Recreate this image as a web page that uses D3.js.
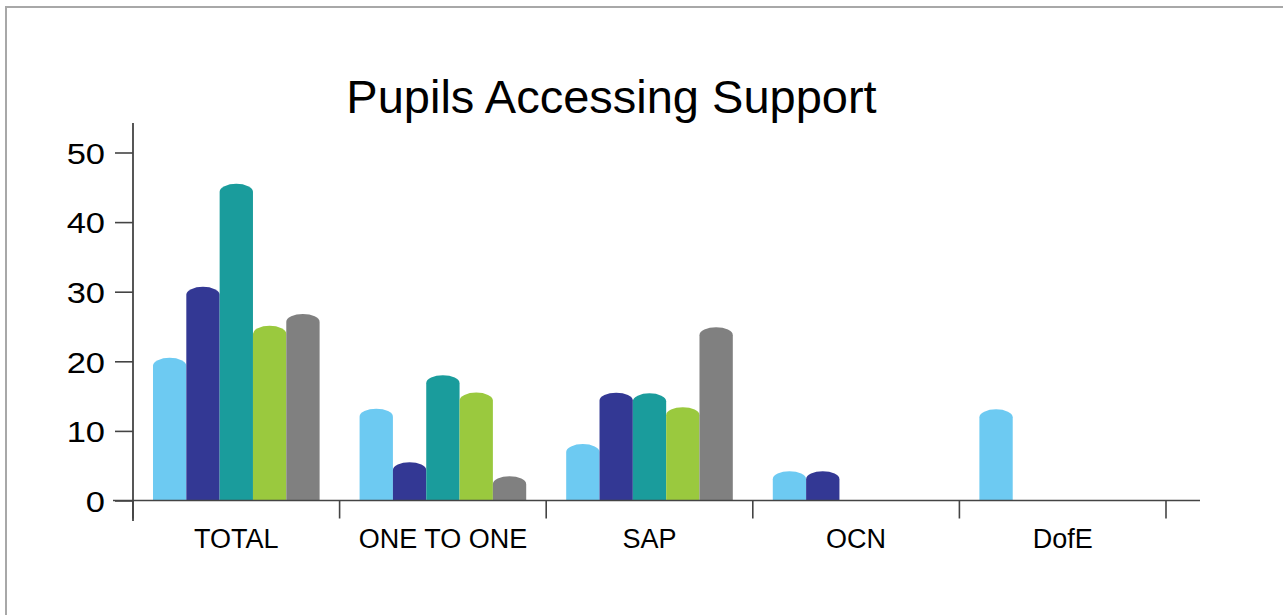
<!DOCTYPE html>
<html>
<head>
<meta charset="utf-8">
<script src="https://cdn.jsdelivr.net/npm/d3@7"></script>
<style>
  body { margin: 0; background: #fff; }
  svg { display: block; }
</style>
</head>
<body>
<svg id="chart"></svg>
<script>
const categories = ["TOTAL", "ONE TO ONE", "SAP", "OCN", "DofE"]
const seriesNames = ["Series 1", "Series 2", "Series 3", "Series 4", "Series 5"]
const seriesColors = ["#6dcaf2", "#333894", "#1a9c9c", "#9ac93e", "#808080"]

const series1 = [20.5, 13.2, 8.1, 4.2, 13.1]
const series2 = [30.7, 5.5, 15.5, 4.2, 0]
const series3 = [45.5, 18.0, 15.4, 0, 0]
const series4 = [25.1, 15.5, 13.4, 0, 0]
const series5 = [26.8, 3.5, 24.9, 0, 0]
const seriesValues = [series1, series2, series3, series4, series5]

const yTicks = [0, 10, 20, 30, 40, 50]

const W = 1283
const H = 615

const svg = d3.select("#chart").attr("width", W).attr("height", H)

// outer frame (runs off the right and bottom edges)
svg
  .append("rect")
  .attr("x", 6)
  .attr("y", 7)
  .attr("width", W + 20)
  .attr("height", H + 20)
  .attr("fill", "none")
  .attr("stroke", "#a8a8a8")
  .attr("stroke-width", 2)

svg
  .append("text")
  .attr("x", 611.5)
  .attr("y", 113)
  .attr("text-anchor", "middle")
  .attr("font-family", "'Liberation Sans', Arial, sans-serif")
  .attr("font-size", 47)
  .attr("fill", "#000")
  .text("Pupils Accessing Support")

const y = d3.scaleLinear().domain([0, 50]).range([500.5, 152.5])

const x0 = d3.scaleBand().domain(categories).range([133, 1166])

const x1 = d3
  .scaleBand()
  .domain(seriesNames)
  .range([0, x0.bandwidth()])
  .paddingInner(0)
  .paddingOuter(0.6)

const rows = []
categories.forEach((cat, ci) => {
  seriesNames.forEach((s, si) => {
    rows.push({ cat, s, color: seriesColors[si], value: seriesValues[si][ci] })
  })
})

const domePath = (d) => {
  const x = x0(d.cat) + x1(d.s)
  const w = x1.bandwidth()
  const base = y(0)
  const top = y(d.value)
  const ry = Math.min(8, base - top)
  return (
    "M" + x + "," + base +
    "V" + (top + ry) +
    "A" + w / 2 + "," + ry + " 0 0 1 " + (x + w) + "," + (top + ry) +
    "V" + base + "Z"
  )
}

/*
  Bars
*/
svg
  .append("g")
  .selectAll("path")
  .data(rows.filter((d) => d.value > 0))
  .enter()
  .append("path")
  .attr("d", domePath)
  .attr("fill", (d) => d.color)

/*
  Y axis
*/
const yAxis = svg
  .append("g")
  .attr("transform", "translate(133,0)")
  .call(d3.axisLeft(y).tickValues(yTicks).tickSize(18).tickPadding(10))

yAxis.select(".domain").remove()
yAxis.selectAll(".tick line").attr("stroke", "#444").attr("stroke-width", 1.6)
yAxis
  .selectAll(".tick text")
  .attr("font-family", "'Liberation Sans', Arial, sans-serif")
  .attr("font-size", 30)
  .attr("fill", "#000")
  .attr("x", -28 / 1.15)
  .attr("dy", "0.36em")
  .attr("transform", "scale(1.15,1)")

svg
  .append("line")
  .attr("x1", 133)
  .attr("x2", 133)
  .attr("y1", 123)
  .attr("y2", 521)
  .attr("stroke", "#444")
  .attr("stroke-width", 1.8)

/*
  X axis
*/
const xAxis = svg
  .append("g")
  .attr("transform", "translate(0," + y(0) + ")")
  .call(
    d3
      .axisBottom(x0)
      .tickSize(0)
      .tickPadding(38)
  )
xAxis.select(".domain").remove()
xAxis
  .selectAll(".tick text")
  .attr("font-family", "'Liberation Sans', Arial, sans-serif")
  .attr("font-size", 27)
  .attr("fill", "#000")
  .attr("dy", "0.36em")

svg
  .append("line")
  .attr("x1", 113)
  .attr("x2", 1200)
  .attr("y1", y(0))
  .attr("y2", y(0))
  .attr("stroke", "#444")
  .attr("stroke-width", 1.6)

svg
  .append("g")
  .selectAll("line")
  .data(categories.concat(["end"]))
  .enter()
  .append("line")
  .attr("x1", (d, i) => 133 + i * x0.step())
  .attr("x2", (d, i) => 133 + i * x0.step())
  .attr("y1", y(0))
  .attr("y2", y(0) + 18)
  .attr("stroke", "#444")
  .attr("stroke-width", 1.6)
</script>
</body>
</html>
